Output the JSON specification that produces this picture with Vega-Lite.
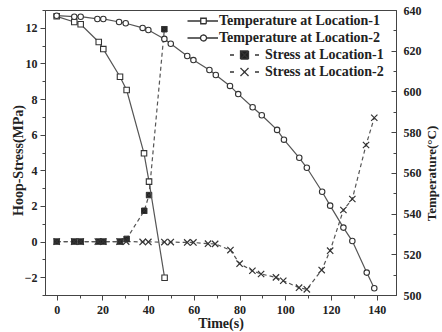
{
  "$schema": "https://vega.github.io/schema/vega-lite/v6.json",
  "width": 351,
  "height": 285,
  "autosize": "none",
  "padding": {"left": 45, "top": 10, "right": 46, "bottom": 37},
  "background": "white",
  "config": {
    "font": "Liberation Serif",
    "view": {"stroke": "#444", "strokeWidth": 1},
    "axis": {
      "grid": false,
      "domainColor": "#444",
      "tickColor": "#444",
      "labelFont": "Liberation Serif",
      "labelFontWeight": "bold",
      "labelFontSize": 12,
      "labelColor": "#222",
      "titleFont": "Liberation Serif",
      "titleFontWeight": "bold",
      "titleColor": "#222"
    },
    "legend": {
      "orient": "none",
      "title": null,
      "padding": 0,
      "symbolSize": 100,
      "symbolStrokeWidth": 1.3,
      "symbolStrokeColor": "#333",
      "symbolOpacity": 1,
      "labelLimit": 0,
      "labelFont": "Liberation Serif",
      "labelFontWeight": "bold",
      "labelFontSize": 14,
      "labelColor": "#222"
    }
  },
  "datasets": {
    "stress": [
      {"t": 0, "v": 0, "series": "Stress at Location-1"},
      {"t": 7.7, "v": 0, "series": "Stress at Location-1"},
      {"t": 10.5, "v": 0, "series": "Stress at Location-1"},
      {"t": 18.4, "v": 0, "series": "Stress at Location-1"},
      {"t": 20.4, "v": 0, "series": "Stress at Location-1"},
      {"t": 27.7, "v": 0, "series": "Stress at Location-1"},
      {"t": 30.6, "v": 0.15, "series": "Stress at Location-1"},
      {"t": 38.3, "v": 1.73, "series": "Stress at Location-1"},
      {"t": 40.4, "v": 2.61, "series": "Stress at Location-1"},
      {"t": 47.1, "v": 11.92, "series": "Stress at Location-1"},
      {"t": 0, "v": 0, "series": "Stress at Location-2"},
      {"t": 7.7, "v": 0, "series": "Stress at Location-2"},
      {"t": 10.5, "v": 0, "series": "Stress at Location-2"},
      {"t": 18.0, "v": 0, "series": "Stress at Location-2"},
      {"t": 20.4, "v": 0, "series": "Stress at Location-2"},
      {"t": 27.5, "v": 0, "series": "Stress at Location-2"},
      {"t": 30.4, "v": 0, "series": "Stress at Location-2"},
      {"t": 37.6, "v": -0.02, "series": "Stress at Location-2"},
      {"t": 40.1, "v": -0.02, "series": "Stress at Location-2"},
      {"t": 47.1, "v": -0.03, "series": "Stress at Location-2"},
      {"t": 49.9, "v": -0.03, "series": "Stress at Location-2"},
      {"t": 57.1, "v": -0.05, "series": "Stress at Location-2"},
      {"t": 59.8, "v": -0.05, "series": "Stress at Location-2"},
      {"t": 66.2, "v": -0.12, "series": "Stress at Location-2"},
      {"t": 69.3, "v": -0.13, "series": "Stress at Location-2"},
      {"t": 76.0, "v": -0.48, "series": "Stress at Location-2"},
      {"t": 80.0, "v": -1.24, "series": "Stress at Location-2"},
      {"t": 85.6, "v": -1.64, "series": "Stress at Location-2"},
      {"t": 89.4, "v": -1.82, "series": "Stress at Location-2"},
      {"t": 95.9, "v": -2.01, "series": "Stress at Location-2"},
      {"t": 99.1, "v": -2.2, "series": "Stress at Location-2"},
      {"t": 106.0, "v": -2.59, "series": "Stress at Location-2"},
      {"t": 109.4, "v": -2.68, "series": "Stress at Location-2"},
      {"t": 115.9, "v": -1.6, "series": "Stress at Location-2"},
      {"t": 119.6, "v": -0.51, "series": "Stress at Location-2"},
      {"t": 125.4, "v": 1.77, "series": "Stress at Location-2"},
      {"t": 129.3, "v": 2.39, "series": "Stress at Location-2"},
      {"t": 135.3, "v": 5.42, "series": "Stress at Location-2"},
      {"t": 138.9, "v": 6.95, "series": "Stress at Location-2"}
    ],
    "temp": [
      {"t": 0, "v": 636.9, "series": "Temperature at Location-1"},
      {"t": 7.7, "v": 634.1, "series": "Temperature at Location-1"},
      {"t": 10.5, "v": 633.0, "series": "Temperature at Location-1"},
      {"t": 18.4, "v": 624.3, "series": "Temperature at Location-1"},
      {"t": 20.4, "v": 620.8, "series": "Temperature at Location-1"},
      {"t": 27.7, "v": 607.2, "series": "Temperature at Location-1"},
      {"t": 30.6, "v": 600.7, "series": "Temperature at Location-1"},
      {"t": 38.2, "v": 569.6, "series": "Temperature at Location-1"},
      {"t": 40.4, "v": 555.7, "series": "Temperature at Location-1"},
      {"t": 47.2, "v": 508.5, "series": "Temperature at Location-1"},
      {"t": 0, "v": 637.2, "series": "Temperature at Location-2"},
      {"t": 7.7, "v": 636.7, "series": "Temperature at Location-2"},
      {"t": 10.5, "v": 636.7, "series": "Temperature at Location-2"},
      {"t": 17.8, "v": 635.6, "series": "Temperature at Location-2"},
      {"t": 20.4, "v": 635.6, "series": "Temperature at Location-2"},
      {"t": 27.3, "v": 634.1, "series": "Temperature at Location-2"},
      {"t": 30.2, "v": 633.5, "series": "Temperature at Location-2"},
      {"t": 37.6, "v": 631.2, "series": "Temperature at Location-2"},
      {"t": 40.1, "v": 630.2, "series": "Temperature at Location-2"},
      {"t": 47.1, "v": 625.8, "series": "Temperature at Location-2"},
      {"t": 49.9, "v": 623.4, "series": "Temperature at Location-2"},
      {"t": 57.1, "v": 617.4, "series": "Temperature at Location-2"},
      {"t": 59.8, "v": 615.4, "series": "Temperature at Location-2"},
      {"t": 66.8, "v": 610.5, "series": "Temperature at Location-2"},
      {"t": 69.6, "v": 608.1, "series": "Temperature at Location-2"},
      {"t": 75.8, "v": 602.7, "series": "Temperature at Location-2"},
      {"t": 79.4, "v": 598.7, "series": "Temperature at Location-2"},
      {"t": 85.7, "v": 592.2, "series": "Temperature at Location-2"},
      {"t": 89.7, "v": 588.3, "series": "Temperature at Location-2"},
      {"t": 96.4, "v": 581.1, "series": "Temperature at Location-2"},
      {"t": 99.4, "v": 576.3, "series": "Temperature at Location-2"},
      {"t": 106.1, "v": 567.4, "series": "Temperature at Location-2"},
      {"t": 109.4, "v": 562.5, "series": "Temperature at Location-2"},
      {"t": 116.1, "v": 550.7, "series": "Temperature at Location-2"},
      {"t": 119.6, "v": 543.9, "series": "Temperature at Location-2"},
      {"t": 125.4, "v": 533.1, "series": "Temperature at Location-2"},
      {"t": 129.3, "v": 526.5, "series": "Temperature at Location-2"},
      {"t": 135.6, "v": 511.0, "series": "Temperature at Location-2"},
      {"t": 138.9, "v": 503.3, "series": "Temperature at Location-2"}
    ]
  },
  "encoding": {
    "x": {
      "field": "t",
      "type": "quantitative",
      "scale": {"domain": [-5.1, 148.4], "nice": false, "zero": false},
      "axis": {
        "title": "Time(s)",
        "titleFontSize": 14,
        "titlePadding": 1,
        "values": [0, 10, 20, 30, 40, 50, 60, 70, 80, 90, 100, 110, 120, 130, 140],
        "labelExpr": "datum.value % 20 == 0 ? datum.label : ''",
        "tickSize": {"condition": {"test": "datum.value % 20 == 0", "value": 5}, "value": 3},
        "labelPadding": 4
      }
    }
  },
  "layer": [
    {
      "data": {"name": "stress"},
      "encoding": {
        "y": {
          "field": "v",
          "type": "quantitative",
          "scale": {"domain": [-3, 13], "nice": false, "zero": false},
          "axis": {
            "orient": "left",
            "title": "Hoop-Stress(MPa)",
            "titleFontSize": 14,
            "titleAngle": 270,
            "titleBaseline": "middle",
            "titleX": -27,
            "titleY": 150,
            "values": [-3, -2, -1, 0, 1, 2, 3, 4, 5, 6, 7, 8, 9, 10, 11, 12, 13],
            "labelExpr": "datum.value % 2 == 0 ? datum.label : ''",
            "tickSize": {"condition": {"test": "datum.value % 2 == 0", "value": 5}, "value": 3},
            "labelPadding": 3
          }
        }
      },
      "layer": [
        {
          "transform": [{"filter": "datum.series == 'Stress at Location-1'"}],
          "mark": {"type": "line", "stroke": "#555", "strokeWidth": 1.2, "strokeDash": [4, 3]},
          "encoding": {
            "opacity": {
              "field": "series",
              "type": "nominal",
              "scale": {"type": "ordinal", "domain": ["Stress at Location-1"], "range": [1]},
              "legend": {
                "legendX": 192.5,
                "legendY": 38,
                "labelOffset": 13.5,
                "symbolType": "M-2.9,0H-2.1M2.1,0H2.9M-0.8,-0.8H0.8V0.8H-0.8ZM-0.8,-0.8L0.8,0.8M-0.8,0.8L0.8,-0.8",
                "symbolFillColor": "#222",
                "symbolDash": [1, 0]
              }
            }
          }
        },
        {
          "transform": [{"filter": "datum.series == 'Stress at Location-2'"}],
          "mark": {"type": "line", "stroke": "#555", "strokeWidth": 1.2, "strokeDash": [4, 3]},
          "encoding": {
            "opacity": {
              "field": "series",
              "type": "nominal",
              "scale": {"type": "ordinal", "domain": ["Stress at Location-2"], "range": [1]},
              "legend": {
                "legendX": 192.5,
                "legendY": 55,
                "labelOffset": 13.5,
                "symbolType": "M-2.9,0H-2.1M2.1,0H2.9M-0.8,-0.8L0.8,0.8M-0.8,0.8L0.8,-0.8",
                "symbolFillColor": "#222",
                "symbolDash": [1, 0]
              }
            }
          }
        },
        {
          "transform": [{"filter": "datum.series == 'Stress at Location-1'"}],
          "mark": {"type": "point", "shape": "M-1,-1H1V1H-1ZM-1,-1L1,1M-1,1L1,-1", "filled": true, "fill": "#222", "stroke": "#333", "strokeWidth": 1, "opacity": 1, "size": 30}
        },
        {
          "transform": [{"filter": "datum.series == 'Stress at Location-2'"}],
          "mark": {"type": "point", "shape": "M-1,-1L1,1M-1,1L1,-1", "stroke": "#333", "strokeWidth": 1.2, "opacity": 1, "size": 40}
        }
      ],
      "resolve": {"scale": {"opacity": "independent"}}
    },
    {
      "data": {"name": "temp"},
      "encoding": {
        "y": {
          "field": "v",
          "type": "quantitative",
          "scale": {"domain": [500, 640], "nice": false, "zero": false},
          "axis": {
            "orient": "right",
            "title": "Temperature(°C)",
            "titleFontSize": 13,
            "titleAngle": 270,
            "titleBaseline": "middle",
            "titleX": 35,
            "titleY": 163,
            "values": [500, 510, 520, 530, 540, 550, 560, 570, 580, 590, 600, 610, 620, 630, 640],
            "labelExpr": "datum.value % 20 == 0 ? datum.label : ''",
            "tickSize": {"condition": {"test": "datum.value % 20 == 0", "value": -5}, "value": -3},
            "labelPadding": 12
          }
        }
      },
      "layer": [
        {
          "transform": [{"filter": "datum.series == 'Temperature at Location-1'"}],
          "mark": {"type": "line", "stroke": "#555", "strokeWidth": 1.2},
          "encoding": {
            "opacity": {
              "field": "series",
              "type": "nominal",
              "scale": {"type": "ordinal", "domain": ["Temperature at Location-1"], "range": [1]},
              "legend": {
                "legendX": 151.5,
                "legendY": 4,
                "labelOffset": 8.5,
                "symbolType": "M-3.2,0H-0.55M0.55,0H2.9M-0.55,-0.55H0.55V0.55H-0.55Z",
                "symbolFillColor": "white",
                "symbolDash": [1, 0]
              }
            }
          }
        },
        {
          "transform": [{"filter": "datum.series == 'Temperature at Location-2'"}],
          "mark": {"type": "line", "stroke": "#555", "strokeWidth": 1.2},
          "encoding": {
            "opacity": {
              "field": "series",
              "type": "nominal",
              "scale": {"type": "ordinal", "domain": ["Temperature at Location-2"], "range": [1]},
              "legend": {
                "legendX": 151.5,
                "legendY": 21,
                "labelOffset": 8.5,
                "symbolType": "M-3.2,0H-0.6M0.6,0H2.9M-0.6,0A0.6,0.6 0 1,0 0.6,0A0.6,0.6 0 1,0 -0.6,0Z",
                "symbolFillColor": "white",
                "symbolDash": [1, 0]
              }
            }
          }
        },
        {
          "transform": [{"filter": "datum.series == 'Temperature at Location-1'"}],
          "mark": {"type": "point", "shape": "square", "filled": true, "fill": "white", "stroke": "#333", "strokeWidth": 1.1, "opacity": 1, "size": 30}
        },
        {
          "transform": [{"filter": "datum.series == 'Temperature at Location-2'"}],
          "mark": {"type": "point", "shape": "circle", "filled": true, "fill": "white", "stroke": "#333", "strokeWidth": 1.1, "opacity": 1, "size": 30}
        }
      ],
      "resolve": {"scale": {"opacity": "independent"}}
    }
  ],
  "resolve": {"scale": {"y": "independent", "opacity": "independent"}}
}
